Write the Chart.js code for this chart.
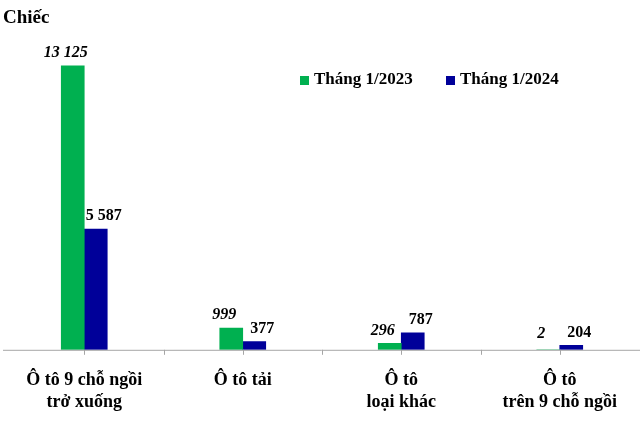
<!DOCTYPE html>
<html>
<head>
<meta charset="utf-8">
<script src="https://cdn.jsdelivr.net/npm/chart.js@4"></script>
<style>
  body { margin: 0; background: #fff; }
  #wrap { position: relative; width: 640px; height: 435px; }
</style>
</head>
<body>
<div id="wrap"><canvas id="c"></canvas></div>
<script>
const categories = [['Ô tô 9 chỗ ngồi', 'trở xuống'], 'Ô tô tải', ['Ô tô', 'loại khác'], ['Ô tô', 'trên 9 chỗ ngồi']];
const seriesNames = ['Tháng 1/2023', 'Tháng 1/2024'];
const values2023 = [13125, 999, 296, 2];
const values2024 = [5587, 377, 787, 204];
const colors = ['#00b050', '#000099'];
const FONT = '"Liberation Serif", "Times New Roman", serif';

function fmt(v) {
  return String(v).replace(/\B(?=(\d{3})+(?!\d))/g, ' ');
}

// nhãn giá trị, trục và chú thích
const extras = {
  id: 'extras',
  afterDatasetsDraw(chart) {
    const ctx = chart.ctx;
    const x = chart.scales.x;
    const area = chart.chartArea;
    ctx.save();
    // trục ngang
    ctx.strokeStyle = '#a6a6a6';
    ctx.lineWidth = 1;
    ctx.beginPath();
    ctx.moveTo(3, area.bottom + 0.5);
    ctx.lineTo(640, area.bottom + 0.5);
    for (let i = 0; i < categories.length; i++) {
      const cx = Math.round(x.getPixelForValue(i)) + 0.5;
      ctx.moveTo(cx, area.bottom);
      ctx.lineTo(cx, area.bottom + 5);
      if (i > 0) {
        const bx = Math.round((x.getPixelForValue(i) + x.getPixelForValue(i - 1)) / 2) + 0.5;
        ctx.moveTo(bx, area.bottom);
        ctx.lineTo(bx, area.bottom + 5);
      }
    }
    ctx.stroke();

    // nhãn trên cột
    ctx.fillStyle = '#000';
    ctx.textAlign = 'center';
    ctx.textBaseline = 'bottom';
    chart.data.datasets.forEach((ds, di) => {
      ctx.font = (di === 0 ? 'italic ' : '') + 'bold 16px ' + FONT;
      chart.getDatasetMeta(di).data.forEach((bar, i) => {
        const off = di === 0 ? -7 : 8;
        ctx.fillText(fmt(ds.data[i]), bar.x + off, Math.min(bar.y, area.bottom - 3) - 5);
      });
    });

    // chú thích
    ctx.font = 'bold 17px ' + FONT;
    ctx.textAlign = 'left';
    ctx.textBaseline = 'middle';
    const lx = [300, 446];
    seriesNames.forEach((n, i) => {
      ctx.fillStyle = colors[i];
      ctx.fillRect(lx[i], 76, 9, 9);
      ctx.fillStyle = '#000';
      ctx.fillText(n, lx[i] + 14, 80);
    });

    ctx.font = 'bold 19px ' + FONT;
    ctx.textBaseline = 'top';
    ctx.fillText('Chiếc', 3, 9);
    ctx.restore();
  }
};

new Chart(document.getElementById('c'), {
  type: 'bar',
  data: {
    labels: categories,
    datasets: [
      { label: seriesNames[0], data: values2023, backgroundColor: colors[0], barThickness: 23 },
      { label: seriesNames[1], data: values2024, backgroundColor: colors[1], barThickness: 23 }
    ]
  },
  options: {
    responsive: true,
    maintainAspectRatio: false,
    animation: false,
    layout: { padding: { left: 5, right: 1, top: 47, bottom: 10 } },
    plugins: { legend: { display: false }, tooltip: { enabled: false } },
    scales: {
      x: {
        grid: { display: false },
        border: { display: false },
        ticks: { color: '#000', font: { family: FONT, size: 18, weight: 'bold' }, padding: 12, maxRotation: 0 }
      },
      y: {
        display: false,
        min: 0,
        max: 14000
      }
    }
  },
  plugins: [extras]
});
</script>
</body>
</html>
